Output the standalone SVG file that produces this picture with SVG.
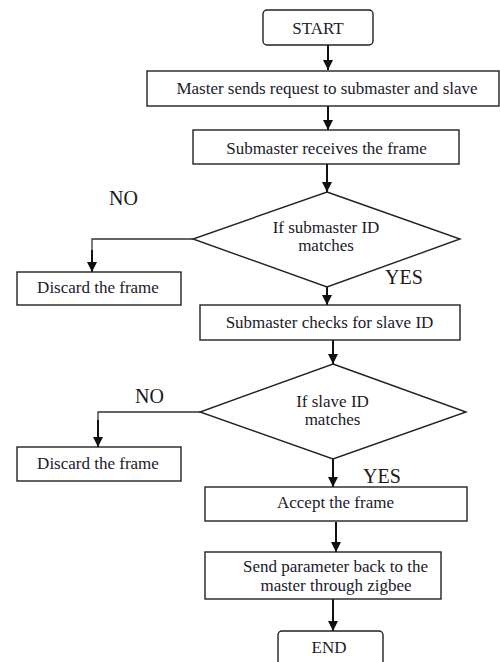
<svg xmlns="http://www.w3.org/2000/svg" width="500" height="662" viewBox="0 0 500 662">
<style>
.box{fill:#fff;stroke:#222;stroke-width:1.4}
.t{font-family:'Liberation Serif','DejaVu Serif',serif;font-size:17px;fill:#1a1a2a;text-anchor:middle}
.lbl{font-family:'Liberation Serif','DejaVu Serif',serif;font-size:20px;fill:#1a1a1a}
.c{fill:none;stroke:#111;stroke-width:2}
.cl{fill:none;stroke:#333;stroke-width:1.3}
</style>
<defs>
<marker id="ah" viewBox="0 0 10 10" refX="10" refY="5" markerWidth="5" markerHeight="5" markerUnits="strokeWidth" orient="auto">
<path d="M0,0 L10,5 L0,10 z" fill="#111"/>
</marker>
</defs>
<rect width="500" height="662" fill="#fff"/>
<g id="connectors">
<line class="c" x1="328" y1="45" x2="328" y2="70" marker-end="url(#ah)"/>
<line class="c" x1="328" y1="106" x2="328" y2="130" marker-end="url(#ah)"/>
<line class="c" x1="327" y1="164" x2="327" y2="192" marker-end="url(#ah)"/>
<polyline class="cl" points="193,239 92,239 92,255"/>
<line class="c" x1="92" y1="250" x2="92" y2="272" marker-end="url(#ah)"/>
<line class="c" x1="327" y1="287" x2="327" y2="305" marker-end="url(#ah)"/>
<line class="c" x1="333" y1="340" x2="333" y2="364" marker-end="url(#ah)"/>
<polyline class="cl" points="200,412 98,412 98,425"/>
<line class="c" x1="98" y1="420" x2="98" y2="447" marker-end="url(#ah)"/>
<line class="c" x1="333" y1="459" x2="333" y2="487" marker-end="url(#ah)"/>
<line class="c" x1="336" y1="522" x2="336" y2="552" marker-end="url(#ah)"/>
<line class="c" x1="333" y1="599" x2="333" y2="631" marker-end="url(#ah)"/>
<text class="lbl" x="109" y="205">NO</text>
<text class="lbl" x="385" y="284">YES</text>
<text class="lbl" x="135" y="403">NO</text>
<text class="lbl" x="363" y="483">YES</text>
</g>
<g id="start">
<rect class="box" x="263" y="10" width="110" height="35" rx="4"/>
<text class="t" x="318" y="34">START</text>
</g>
<g id="master-sends">
<rect class="box" x="147" y="71" width="352" height="35"/>
<text class="t" x="327" y="94">Master sends request to submaster and slave</text>
</g>
<g id="submaster-receives">
<rect class="box" x="193" y="130" width="266" height="34"/>
<text class="t" x="326.5" y="154">Submaster receives the frame</text>
</g>
<g id="submaster-id-decision">
<polygon class="box" points="327,192 460,239 327,287 193,239"/>
<text class="t" x="326" y="233">If submaster ID</text>
<text class="t" x="326" y="251">matches</text>
</g>
<g id="discard1">
<rect class="box" x="17" y="272" width="164" height="33"/>
<text class="t" x="98" y="293">Discard the frame</text>
</g>
<g id="submaster-checks">
<rect class="box" x="200" y="305" width="260" height="35"/>
<text class="t" x="329.5" y="328">Submaster checks for slave ID</text>
</g>
<g id="slave-id-decision">
<polygon class="box" points="333,364 466,412 333,459 200,412"/>
<text class="t" x="332.5" y="407">If slave ID</text>
<text class="t" x="332.5" y="425">matches</text>
</g>
<g id="discard2">
<rect class="box" x="17" y="447" width="164" height="34"/>
<text class="t" x="98" y="469">Discard the frame</text>
</g>
<g id="accept">
<rect class="box" x="205" y="487" width="262" height="34"/>
<text class="t" x="335.5" y="508">Accept the frame</text>
</g>
<g id="send-parameter">
<rect class="box" x="205" y="552" width="236" height="47"/>
<text class="t" x="335.5" y="572">Send parameter back to the</text>
<text class="t" x="336" y="591">master through zigbee</text>
</g>
<g id="end">
<rect class="box" x="278" y="631" width="105" height="40" rx="4"/>
<text class="t" x="329" y="653">END</text>
</g>
</svg>
